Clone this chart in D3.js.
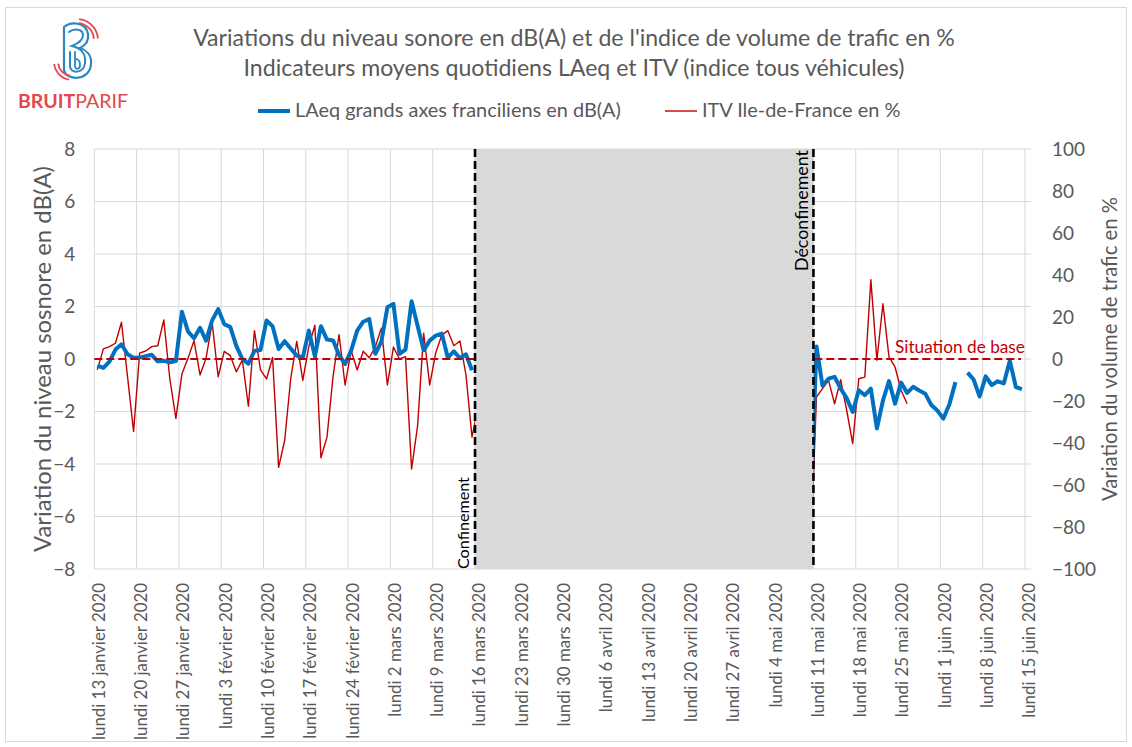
<!DOCTYPE html>
<html>
<head>
<meta charset="utf-8">
<script src="https://cdn.jsdelivr.net/npm/d3@7"></script>
<style>
  body { margin: 0; background: #fff; }
  text { font-family: Lato, "Liberation Sans", sans-serif; fill: #595959; }
</style>
</head>
<body>
<div id="chart"></div>
<script>

// Données quotidiennes
// LAeq (dB(A)) du lundi 13 janvier au dimanche 15 mars
var laeqAvant = [-0.25, -0.34, -0.1, 0.36, 0.56, 0.18, 0.05, 0.05, 0.11, 0.16,
    -0.09, -0.07, -0.13, -0.08, 1.8, 1.05, 0.79, 1.19, 0.7, 1.47,
    1.9, 1.33, 1.22, 0.5, 0.0, -0.18, 0.31, 0.34, 1.47, 1.25,
    0.38, 0.68, 0.4, 0.13, 0.05, 1.08, 0.1, 1.25, 0.74, 0.71,
    0.15, -0.19, 0.32, 1.08, 1.42, 1.52, 0.2, 0.66, 1.97, 2.1,
    0.2, 0.36, 2.2, 1.27, 0.33, 0.7, 0.89, 0.97, 0.05, 0.29,
    0.03, 0.18, -0.43];

// ITV (%) du lundi 13 janvier au lundi 16 mars
var itvAvant = [-5.2, 4.8, 5.9, 7.5, 17.5, -8.4, -34.5, 2.8, 3.8, 5.9,
    6.3, 18.6, -9.5, -28.3, -7.1, 0.3, 8.7, -7.6, 0.5, 17.3,
    -8.5, 3.6, 1.6, -6.1, -0.5, -22.5, 13.5, -5.2, -9.5, 0.7,
    -51.6, -38.8, -9.4, 8.4, -10.2, 6.0, 16.1, -47.0, -37.3, -8.5,
    11.6, -12.4, 4.0, -5.2, 3.7, 0.6, 5.8, 14.7, -12.4, 5.7,
    0.0, 1.1, -52.4, -31.7, 12.3, -12.4, 3.0, 11.4, 13.5, 6.3,
    8.6, -7.5, -37.2, -23];

// LAeq (dB(A)) du dimanche 10 mai au dimanche 14 juin (null = pas de mesure)
var laeqApres = [-6.0, 0.48, -1.02, -0.75, -0.68, -1.13, -1.49, -2.02, -1.19, -1.38,
    -1.13, -2.65, -1.58, -0.84, -1.7, -0.9, -1.29, -1.06, -1.2, -1.32,
    -1.75, -1.96, -2.27, -1.72, -0.88, null, -0.52, -0.78, -1.43, -0.66,
    -0.99, -0.85, -0.93, -0.07, -1.07, -1.15];

// ITV (%) du dimanche 10 mai au mardi 26 mai
var itvApres = [-95, -18.1, -14.1, -10.2, -21.3, -9.8, -24.4, -40.3, -9.4, -8.6,
    37.8, -0.6, 26.3, 1.0, -3.8, -14.9, -21.3];

var debutAvant = new Date(2020, 0, 13);
var debutApres = new Date(2020, 4, 10);
var dateConfinement = new Date(2020, 2, 16);
var dateDeconfinement = new Date(2020, 4, 11);

var semaines = ["lundi 13 janvier 2020", "lundi 20 janvier 2020", "lundi 27 janvier 2020",
    "lundi 3 février 2020", "lundi 10 février 2020", "lundi 17 février 2020",
    "lundi 24 février 2020", "lundi 2 mars 2020", "lundi 9 mars 2020",
    "lundi 16 mars 2020", "lundi 23 mars 2020", "lundi 30 mars 2020",
    "lundi 6 avril 2020", "lundi 13 avril 2020", "lundi 20 avril 2020",
    "lundi 27 avril 2020", "lundi 4 mai 2020", "lundi 11 mai 2020",
    "lundi 18 mai 2020", "lundi 25 mai 2020", "lundi 1 juin 2020",
    "lundi 8 juin 2020", "lundi 15 juin 2020"];

var ticksDb = [-8, -6, -4, -2, 0, 2, 4, 6, 8];
var ticksPct = [-100, -80, -60, -40, -20, 0, 20, 40, 60, 80, 100];

var rouge = "#c00000", bleu = "#0070c0", gris = "#d9d9d9";

function serie(debut, valeurs) {
    return valeurs.map(function(v, i) {
        return {date: d3.timeHour.offset(d3.timeDay.offset(debut, i), 12), value: v};
    });
}

// ajuste la taille de police pour obtenir la largeur voulue
function ajuste(sel, largeur) {
    var fs = parseFloat(sel.style("font-size"));
    var w = sel.node().getComputedTextLength();
    var taille = fs * largeur / w;
    sel.style("font-size", taille + "px");
    return taille;
}

var width = 1132, height = 747;
var plot = {left: 94.3, right: 1031, top: 149, bottom: 569};

var svg = d3.select("#chart").append("svg")
    .attr("width", width)
    .attr("height", height);

svg.append("rect")
    .attr("x", 5.5).attr("y", 7.5)
    .attr("width", 1121).attr("height", 734)
    .attr("fill", "#fff")
    .attr("stroke", gris);

var x = d3.scaleTime()
    .domain([new Date(2020, 0, 13), new Date(2020, 5, 16)])
    .range([plot.left, plot.right]);

var y = d3.scaleLinear()
    .domain([-8, 8])
    .range([plot.bottom, plot.top]);

var y2 = d3.scaleLinear()
    .domain([-100, 100])
    .range([plot.bottom, plot.top]);

var lundis = d3.timeMonday.range(new Date(2020, 0, 13), new Date(2020, 5, 16));

// grille
svg.append("g").selectAll("line.h")
    .data(ticksDb)
    .enter().append("line")
    .attr("x1", plot.left).attr("x2", plot.right)
    .attr("y1", function(d) { return y(d); })
    .attr("y2", function(d) { return y(d); })
    .attr("stroke", gris).attr("stroke-width", 1);

svg.append("g").selectAll("line.v")
    .data(lundis)
    .enter().append("line")
    .attr("x1", function(d) { return x(d); })
    .attr("x2", function(d) { return x(d); })
    .attr("y1", plot.top).attr("y2", plot.bottom)
    .attr("stroke", gris).attr("stroke-width", 1);

svg.append("clipPath").attr("id", "clip")
    .append("rect")
    .attr("x", plot.left).attr("y", plot.top)
    .attr("width", plot.right - plot.left)
    .attr("height", plot.bottom - plot.top);

var zone = svg.append("g").attr("clip-path", "url(#clip)");

var ligneItv = d3.line()
    .x(function(d) { return x(d.date); })
    .y(function(d) { return y2(d.value); });

var ligneDb = d3.line()
    .defined(function(d) { return d.value !== null; })
    .x(function(d) { return x(d.date); })
    .y(function(d) { return y(d.value); });

[serie(debutAvant, itvAvant), serie(debutApres, itvApres)].forEach(function(s) {
    zone.append("path")
        .datum(s)
        .attr("d", ligneItv)
        .attr("fill", "none")
        .attr("stroke", rouge)
        .attr("stroke-width", 1.4)
        .attr("stroke-linejoin", "round");
});

[serie(debutAvant, laeqAvant), serie(debutApres, laeqApres)].forEach(function(s) {
    zone.append("path")
        .datum(s)
        .attr("d", ligneDb)
        .attr("fill", "none")
        .attr("stroke", bleu)
        .attr("stroke-width", 4)
        .attr("stroke-linejoin", "round");
});

// situation de base
svg.append("line")
    .attr("x1", plot.left).attr("x2", 1021)
    .attr("y1", y(0)).attr("y2", y(0))
    .attr("stroke", rouge)
    .attr("stroke-width", 2.2)
    .attr("stroke-dasharray", "8,4");

svg.append("text")
    .attr("x", 895).attr("y", y(0) - 6)
    .style("font-size", "16px")
    .style("fill", rouge)
    .text("Situation de base")
    .call(ajuste, 130);

// période de confinement
svg.append("rect")
    .attr("x", x(dateConfinement))
    .attr("y", plot.top)
    .attr("width", x(dateDeconfinement) - x(dateConfinement))
    .attr("height", plot.bottom - plot.top)
    .attr("fill", gris);

[dateConfinement, dateDeconfinement].forEach(function(d) {
    svg.append("line")
        .attr("x1", x(d)).attr("x2", x(d))
        .attr("y1", plot.top).attr("y2", plot.bottom)
        .attr("stroke", "#000")
        .attr("stroke-width", 2.6)
        .attr("stroke-dasharray", "8,4");
});

svg.append("text")
    .attr("transform", "translate(" + (x(dateConfinement) - 12) + "," + plot.bottom + ") rotate(-90)")
    .attr("dy", "0.35em")
    .style("font-size", "17px")
    .style("fill", "#000")
    .text("Confinement")
    .call(ajuste, 92);

svg.append("text")
    .attr("transform", "translate(" + (x(dateDeconfinement) - 12) + "," + (plot.top + 1) + ") rotate(-90)")
    .attr("dy", "0.35em")
    .attr("text-anchor", "end")
    .style("font-size", "17px")
    .style("fill", "#000")
    .text("Déconfinement")
    .call(ajuste, 121);

// axes
var axeGauche = svg.append("g")
    .attr("transform", "translate(" + (plot.left - 19) + ",0)")
    .call(d3.axisLeft(y).tickValues(ticksDb).tickSize(0).tickPadding(0));
axeGauche.select(".domain").remove();
axeGauche.selectAll("text")
    .style("font-size", "19px")
    .style("font-family", "Lato, sans-serif")
    .attr("fill", "#595959");

var axeDroit = svg.append("g")
    .attr("transform", "translate(" + (plot.right + 21) + ",0)")
    .call(d3.axisRight(y2).tickValues(ticksPct).tickSize(0).tickPadding(0));
axeDroit.select(".domain").remove();
axeDroit.selectAll("text")
    .style("font-size", "19px")
    .style("font-family", "Lato, sans-serif")
    .attr("fill", "#595959");

var axeBas = svg.append("g")
    .attr("transform", "translate(0," + plot.bottom + ")")
    .call(d3.axisBottom(x)
        .tickValues(lundis.map(function(d) { return d3.timeHour.offset(d, 16); }))
        .tickSize(0)
        .tickFormat(function(d, i) { return semaines[i]; }));
axeBas.select(".domain").remove();
var etiquettes = axeBas.selectAll("text")
    .attr("transform", "rotate(-90)")
    .attr("x", -14).attr("y", 0)
    .attr("dy", "0.35em")
    .attr("text-anchor", "end")
    .style("font-size", "18px")
    .style("font-family", "Lato, sans-serif")
    .attr("fill", "#595959");
var tailleX = ajuste(d3.select(etiquettes.nodes()[0]), 157);
etiquettes.style("font-size", tailleX + "px");

// titres des axes
svg.append("text")
    .attr("transform", "translate(43," + 359 + ") rotate(-90)")
    .attr("dy", "0.35em")
    .attr("text-anchor", "middle")
    .style("font-size", "19px")
    .text("Variation du niveau sosnore en dB(A)")
    .call(ajuste, 386);

svg.append("text")
    .attr("transform", "translate(1110," + 349 + ") rotate(-90)")
    .attr("dy", "0.35em")
    .attr("text-anchor", "middle")
    .style("font-size", "19px")
    .text("Variation du volume de trafic en %")
    .call(ajuste, 304);

// titre
var titre1 = svg.append("text")
    .attr("x", 574).attr("y", 46)
    .attr("text-anchor", "middle")
    .style("font-size", "20px")
    .text("Variations du niveau sonore en dB(A) et de l'indice de volume de trafic en %");
var tailleTitre = ajuste(titre1, 762);

svg.append("text")
    .attr("x", 574).attr("y", 76)
    .attr("text-anchor", "middle")
    .style("font-size", tailleTitre + "px")
    .text("Indicateurs moyens quotidiens LAeq et ITV (indice tous véhicules)");

// légende
svg.append("line")
    .attr("x1", 258).attr("x2", 290)
    .attr("y1", 111).attr("y2", 111)
    .attr("stroke", bleu).attr("stroke-width", 4);
var leg1 = svg.append("text")
    .attr("x", 295).attr("y", 117)
    .style("font-size", "18px")
    .text("LAeq grands axes franciliens en dB(A)");
var tailleLeg = ajuste(leg1, 326);

svg.append("line")
    .attr("x1", 665).attr("x2", 697)
    .attr("y1", 111).attr("y2", 111)
    .attr("stroke", rouge).attr("stroke-width", 1.4);
svg.append("text")
    .attr("x", 702).attr("y", 117)
    .style("font-size", tailleLeg + "px")
    .text("ITV Ile-de-France en %");

// logo Bruitparif
var logo = svg.append("g")
    .attr("fill", "none")
    .attr("stroke-linecap", "round");

logo.append("path")
    .attr("d", "M64,27 L64,69 C64,81 90,82 91,64 C92,55 86,50 80,48 C86,45 89,40 88,34 C86,22 71,21 64,27")
    .attr("stroke", "#2a86c4").attr("stroke-width", 2.2);
logo.append("path")
    .attr("d", "M69,32 C74,28 83,29 83,35 C83,41 77,44 72,46 C81,48 86,54 85,63 C84,74 70,74 70,66 L70,52")
    .attr("stroke", "#2a86c4").attr("stroke-width", 2);
logo.append("path")
    .attr("d", "M75,52 L75,66 C75,70 80,70 80,65 C80,60 77,58 75,60")
    .attr("stroke", "#2a86c4").attr("stroke-width", 1.8);

var arc = d3.arc();
[16, 20].forEach(function(r) {
    logo.append("path")
        .attr("transform", "translate(77,40)")
        .attr("d", arc({innerRadius: r, outerRadius: r + 1.8, startAngle: 0.1, endAngle: 1.5}))
        .attr("fill", "#e5474c");
    logo.append("path")
        .attr("transform", "translate(72,62)")
        .attr("d", arc({innerRadius: r - 3, outerRadius: r - 1.2, startAngle: 3.3, endAngle: 4.6}))
        .attr("fill", "#e5474c");
});

var marque = svg.append("text")
    .attr("x", 18).attr("y", 108)
    .style("font-size", "20px")
    .style("fill", "#e5474c");
marque.append("tspan").style("font-weight", "bold").text("BRUIT");
marque.append("tspan").text("PARIF");
ajuste(marque, 110);

</script>
</body>
</html>
